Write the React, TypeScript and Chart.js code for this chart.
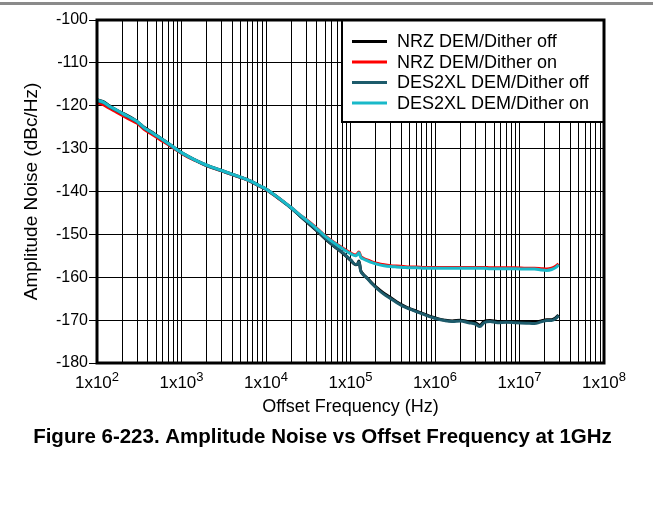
import React, { useEffect, useRef } from "react";
import { Chart, registerables } from "chart.js";

Chart.register(...registerables);

const frequencies = [
  100, 120, 140, 170, 210, 250, 300, 360, 450, 560,
  700, 880, 1100, 1400, 1800, 2200, 2800, 3400, 4300, 5300,
  6600, 8300, 10000, 12000, 15000, 20000, 25000, 32000, 40000, 50000,
  63000, 80000, 100000, 115000, 122000, 126000, 132000, 140000, 160000, 180000,
  210000, 250000, 300000, 350000, 420000, 500000, 600000, 750000, 900000, 1100000,
  1300000, 1600000, 2000000, 2500000, 3000000, 3400000, 3800000, 4500000, 5500000, 7000000,
  9000000, 12000000, 15000000, 18000000, 21000000, 24000000, 27000000, 29000000,
];

const nrzDitherOff = [
  -118.6, -119.1, -120.0, -121.0, -121.9, -122.7, -123.7, -125.0, -126.2, -127.5,
  -128.8, -130.2, -131.4, -132.5, -133.5, -134.2, -134.9, -135.5, -136.2, -136.8,
  -137.6, -138.6, -139.4, -140.5, -141.9, -143.9, -145.6, -147.5, -149.2, -151.0,
  -152.7, -154.3, -156.0, -157.1, -156.8, -156.2, -158.4, -159.2, -160.3, -161.4,
  -162.6, -163.8, -164.8, -165.7, -166.6, -167.3, -167.9, -168.6, -169.2, -169.7,
  -170.0, -170.2, -170.0, -170.4, -170.6, -171.2, -170.3, -170.1, -170.3, -170.3,
  -170.4, -170.5, -170.5, -170.2, -169.9, -169.9, -169.4, -168.8,
];

const nrzDitherOn = [
  -119.3, -119.8, -120.6, -121.5, -122.5, -123.3, -124.1, -125.5, -126.7, -127.9,
  -129.1, -130.4, -131.6, -132.6, -133.6, -134.3, -135.0, -135.6, -136.3, -136.9,
  -137.7, -138.7, -139.5, -140.6, -142.0, -143.8, -145.4, -147.0, -148.6, -150.3,
  -151.8, -153.1, -154.3, -154.8, -154.4, -154.1, -155.1, -155.5, -156.0, -156.4,
  -156.8, -157.1, -157.3, -157.4, -157.5, -157.6, -157.6, -157.7, -157.7, -157.7,
  -157.7, -157.7, -157.7, -157.7, -157.7, -157.7, -157.7, -157.8, -157.8, -157.8,
  -157.8, -157.9, -157.9, -158.0, -158.1, -157.9, -157.4, -156.9,
];

const des2xlDitherOff = [
  -118.8, -119.3, -120.2, -121.1, -122.1, -122.9, -123.8, -125.2, -126.4, -127.6,
  -128.9, -130.3, -131.5, -132.6, -133.6, -134.3, -135.0, -135.6, -136.3, -136.9,
  -137.7, -138.7, -139.5, -140.6, -142.0, -143.9, -145.6, -147.4, -149.1, -150.9,
  -152.6, -154.2, -155.9, -157.0, -156.9, -156.4, -158.5, -159.3, -160.4, -161.5,
  -162.8, -164.0, -165.0, -165.9, -166.8, -167.4, -168.0, -168.7, -169.3, -169.8,
  -170.1, -170.3, -170.2, -170.6, -170.9, -171.5, -170.6, -170.3, -170.6, -170.5,
  -170.6, -170.7, -170.8, -170.4, -170.1, -170.1, -169.6, -168.9,
];

const des2xlDitherOn = [
  -118.7, -119.2, -120.1, -121.0, -122.0, -122.8, -123.7, -125.1, -126.3, -127.5,
  -128.8, -130.2, -131.4, -132.5, -133.5, -134.2, -134.9, -135.5, -136.2, -136.8,
  -137.6, -138.6, -139.4, -140.5, -141.9, -143.8, -145.4, -147.1, -148.7, -150.4,
  -151.9, -153.3, -154.5, -155.0, -154.6, -154.3, -155.3, -155.7, -156.2, -156.6,
  -157.0, -157.3, -157.5, -157.6, -157.7, -157.8, -157.8, -157.9, -157.9, -157.9,
  -157.9, -157.9, -157.9, -157.9, -157.9, -157.9, -157.9, -158.0, -158.0, -158.0,
  -158.0, -158.1, -158.1, -158.3, -158.4, -158.2, -157.7, -157.1,
];

const seriesLabels = [
  "NRZ DEM/Dither off",
  "NRZ DEM/Dither on",
  "DES2XL DEM/Dither off",
  "DES2XL DEM/Dither on",
];
const seriesValues = [nrzDitherOff, nrzDitherOn, des2xlDitherOff, des2xlDitherOn];
const seriesColors = ["#000000", "#ff0000", "#1d5b6b", "#19b9c9"];

const yTickValues = [-180, -170, -160, -150, -140, -130, -120, -110, -100];
const xTickExponents = [2, 3, 4, 5, 6, 7, 8];
const xAxisTitle = "Offset Frequency (Hz)";
const yAxisTitle = "Amplitude Noise (dBc/Hz)";
const captionText = "Figure 6-223. Amplitude Noise vs Offset Frequency at 1GHz";

const FONT = "'Liberation Sans', Arial, Helvetica, sans-serif";

const minorTickValues: number[] = [];
for (let e = xTickExponents[0]; e < xTickExponents[xTickExponents.length - 1]; e++) {
  for (let m = 1; m <= 9; m++) minorTickValues.push(m * Math.pow(10, e));
}
minorTickValues.push(Math.pow(10, xTickExponents[xTickExponents.length - 1]));

const decorPlugin = {
  id: "decor",
  afterDraw(chart: any) {
    const { ctx, chartArea: a, scales } = chart;
    ctx.save();
    // top rule
    ctx.fillStyle = "#8a8a8a";
    ctx.fillRect(0, 2, chart.width, 3);

    // legend box
    const lw = 262;
    const lh = 102;
    const lx = a.right - lw;
    const ly = a.top;
    ctx.fillStyle = "#ffffff";
    ctx.fillRect(lx, ly, lw, lh);
    ctx.strokeStyle = "#000";
    ctx.lineWidth = 2;
    ctx.strokeRect(lx, ly, lw, lh);
    ctx.font = `18px ${FONT}`;
    ctx.textBaseline = "middle";
    ctx.textAlign = "left";
    chart.data.datasets.forEach((ds: any, i: number) => {
      const cy = ly + 21.5 + i * 20.5;
      ctx.strokeStyle = ds.borderColor;
      ctx.lineWidth = 3;
      ctx.beginPath();
      ctx.moveTo(lx + 10, cy);
      ctx.lineTo(lx + 45, cy);
      ctx.stroke();
      ctx.fillStyle = "#000";
      ctx.fillText(ds.label, lx + 55, cy + 1);
    });

    // frame
    ctx.strokeStyle = "#000";
    ctx.lineWidth = 3;
    ctx.strokeRect(a.left, a.top, a.right - a.left, a.bottom - a.top);

    // x tick labels with superscript exponents
    const xs = scales.x;
    ctx.fillStyle = "#000";
    ctx.textBaseline = "alphabetic";
    ctx.textAlign = "left";
    const baseY = a.bottom + 25;
    xTickExponents.forEach((e) => {
      const px = xs.getPixelForValue(Math.pow(10, e));
      const main = "1x10";
      const sup = String(e);
      ctx.font = `17px ${FONT}`;
      const w1 = ctx.measureText(main).width;
      ctx.font = `13px ${FONT}`;
      const w2 = ctx.measureText(sup).width;
      const start = px - (w1 + w2) / 2;
      ctx.font = `17px ${FONT}`;
      ctx.fillText(main, start, baseY);
      ctx.font = `13px ${FONT}`;
      ctx.fillText(sup, start + w1, baseY - 7);
    });

    // figure caption
    ctx.font = `bold 20.5px ${FONT}`;
    ctx.textAlign = "center";
    ctx.textBaseline = "middle";
    ctx.fillText(captionText, 322.5, a.bottom + 74);
    ctx.restore();
  },
};

export default function App() {
  const canvasRef = useRef<HTMLCanvasElement | null>(null);

  useEffect(() => {
    const canvas = canvasRef.current;
    if (!canvas) return;
    const datasets = seriesLabels.map((label, i) => ({
      label,
      data: frequencies.map((f, j) => ({ x: f, y: seriesValues[i][j] })),
      borderColor: seriesColors[i],
      backgroundColor: seriesColors[i],
      borderWidth: 3,
      pointRadius: 0,
      fill: false,
      cubicInterpolationMode: "monotone" as const,
      order: seriesLabels.length - i,
    }));

    const chart = new Chart(canvas, {
      type: "line",
      data: { datasets },
      plugins: [decorPlugin],
      options: {
        animation: false,
        responsive: false,
        maintainAspectRatio: false,
        layout: { padding: { top: 20, right: 49, bottom: 102, left: 0 } },
        plugins: {
          legend: { display: false },
          tooltip: { enabled: false },
          title: { display: false },
        },
        scales: {
          x: {
            type: "logarithmic",
            min: 100,
            max: 1e8,
            afterBuildTicks: (scale: any) => {
              scale.ticks = minorTickValues.map((v) => ({ value: v }));
            },
            afterFit: (scale: any) => {
              scale.height = 60;
            },
            ticks: {
              autoSkip: false,
              maxRotation: 0,
              callback: () => "",
            },
            grid: {
              color: "#000",
              lineWidth: 1,
              drawTicks: false,
            },
            border: { display: false },
            title: {
              display: true,
              text: xAxisTitle,
              color: "#000",
              font: { family: FONT, size: 18 },
              padding: { top: 0, bottom: 5 },
            },
          },
          y: {
            type: "linear",
            min: -180,
            max: -100,
            afterBuildTicks: (scale: any) => {
              scale.ticks = yTickValues.map((v) => ({ value: v }));
            },
            afterFit: (scale: any) => {
              scale.width = 97;
            },
            ticks: {
              color: "#000",
              padding: 1,
              font: { family: FONT, size: 16 },
            },
            grid: {
              color: "#000",
              lineWidth: 1,
              drawTicks: true,
              tickLength: 8,
            },
            border: { display: false },
            title: {
              display: true,
              text: yAxisTitle,
              color: "#000",
              font: { family: FONT, size: 19 },
              padding: { top: 20, bottom: 0 },
            },
          },
        },
      },
    });
    return () => chart.destroy();
  }, []);

  return (
    <div style={{ position: "absolute", left: 0, top: 0, width: 653, height: 525, background: "#fff" }}>
      <canvas ref={canvasRef} width={653} height={525} style={{ display: "block" }} />
    </div>
  );
}
